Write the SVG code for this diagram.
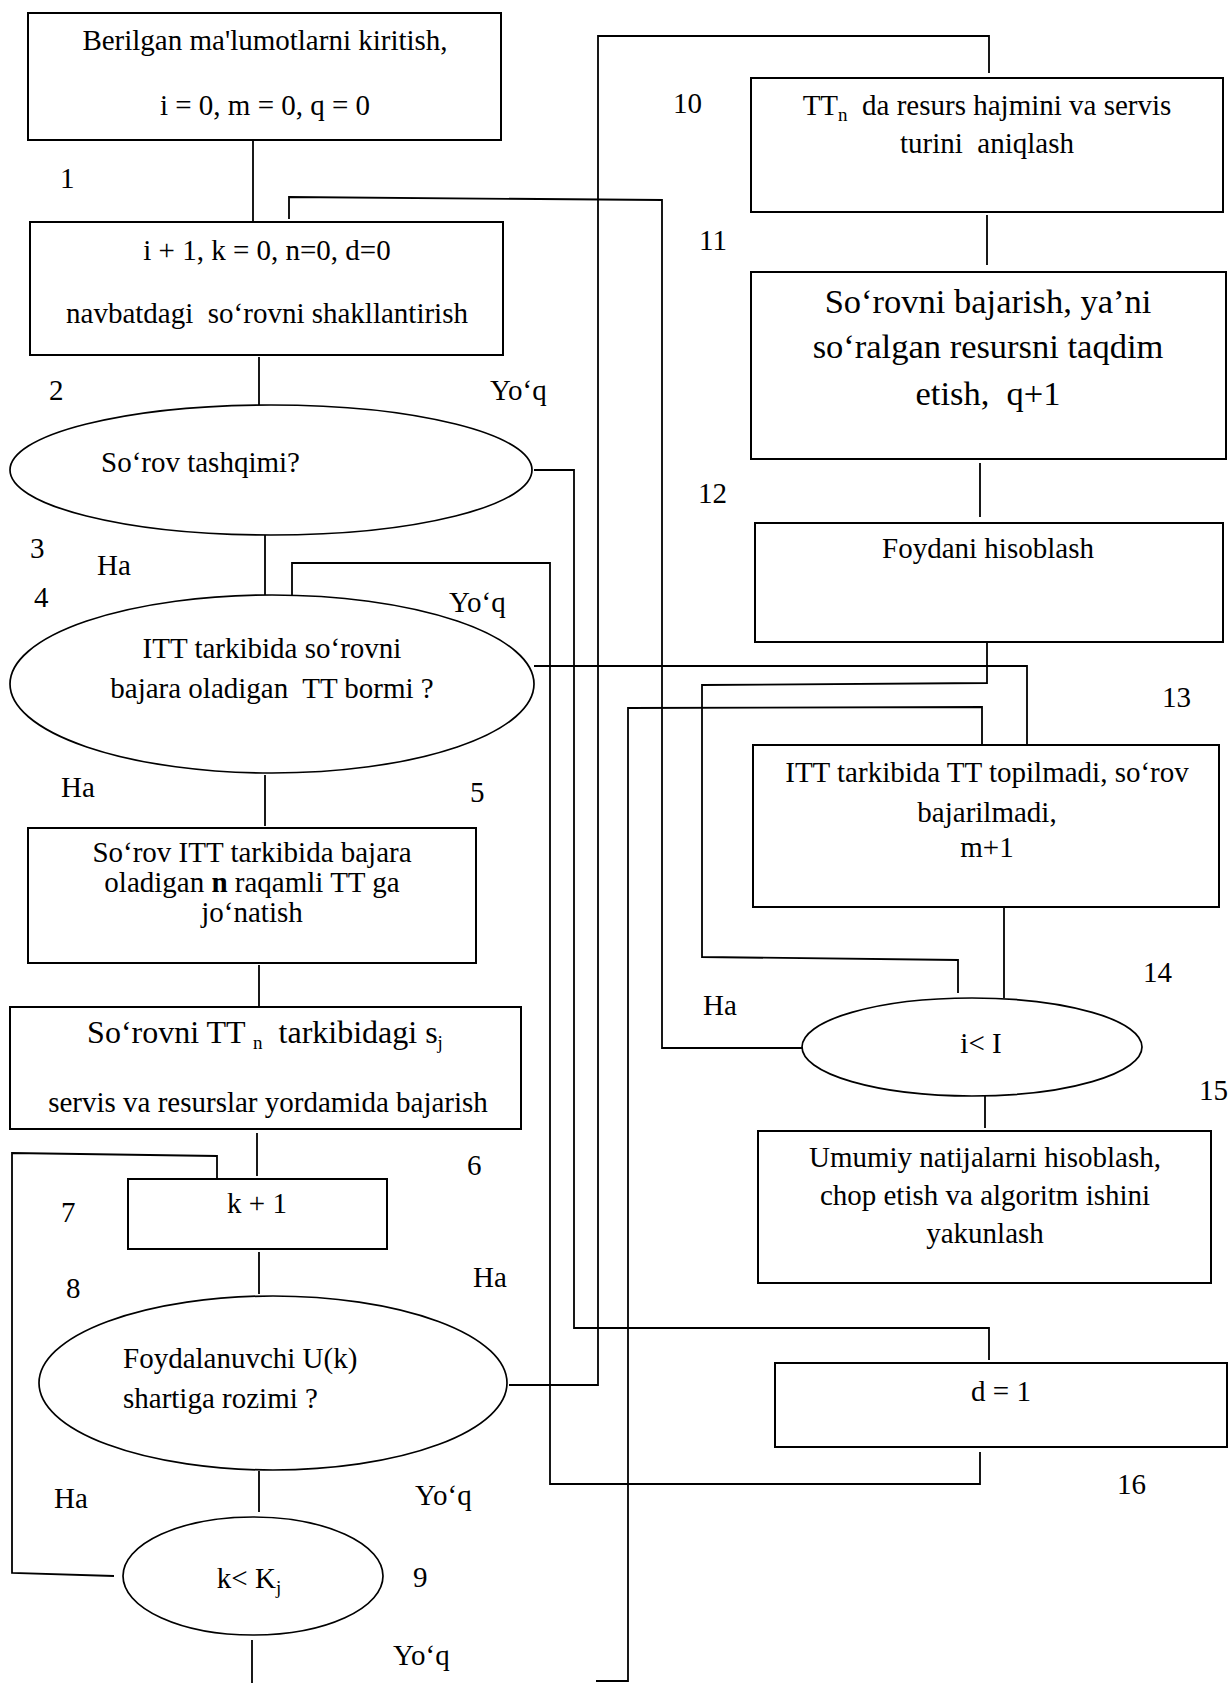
<svg xmlns="http://www.w3.org/2000/svg" width="1228" height="1683" viewBox="0 0 1228 1683">
<style>
.box{fill:none;stroke:#000;stroke-width:2}
.ell{fill:none;stroke:#000;stroke-width:1.7}
.cn{fill:none;stroke:#000;stroke-width:1.8}
text{font-family:"Liberation Serif","Times New Roman",serif;font-size:29px;fill:#000;white-space:pre}
.m{text-anchor:middle}
.big{font-size:34.5px}
.b6{font-size:32px}
.sub{font-size:19px}
</style>
<rect width="1228" height="1683" fill="#fff"/>
<g id="connectors">
<line class="cn" x1="253" y1="141" x2="253" y2="221"/>
<line class="cn" x1="259" y1="357" x2="259" y2="405"/>
<line class="cn" x1="265" y1="535" x2="265" y2="595"/>
<line class="cn" x1="265" y1="775" x2="265" y2="826"/>
<line class="cn" x1="259" y1="965" x2="259" y2="1007"/>
<line class="cn" x1="257" y1="1133" x2="257" y2="1176"/>
<line class="cn" x1="259" y1="1252" x2="259" y2="1294"/>
<line class="cn" x1="259" y1="1471" x2="259" y2="1512"/>
<line class="cn" x1="252" y1="1640" x2="252" y2="1683"/>
<polyline class="cn" points="114,1576 12,1573 12,1153 217,1156 217,1179"/>
<polyline class="cn" points="534,470 574,470 574,1328 989,1328 989,1360"/>
<polyline class="cn" points="509,1385 598,1385 598,36 989,36 989,73"/>
<polyline class="cn" points="292,595 292,563 550,563 550,1484 980,1484 980,1452"/>
<polyline class="cn" points="289,219 289,197 662,200 662,1048 803,1048"/>
<polyline class="cn" points="987,643 987,683 702,685 702,957 958,960 958,993"/>
<polyline class="cn" points="534,666 1027,666 1027,745"/>
<polyline class="cn" points="982,745 982,707 628,708 628,1681 596,1681"/>
<line class="cn" x1="1004" y1="908" x2="1004" y2="998"/>
<line class="cn" x1="985" y1="1096" x2="985" y2="1128"/>
<line class="cn" x1="987" y1="215" x2="987" y2="265"/>
<line class="cn" x1="980" y1="463" x2="980" y2="517"/>
</g>
<g id="n1">
<rect class="box" x="28" y="13" width="473" height="127"/>
<text class="m" x="265" y="50">Berilgan ma'lumotlarni kiritish,</text>
<text class="m" x="265" y="115">i = 0, m = 0, q = 0</text>
</g>
<g id="n2">
<rect class="box" x="30" y="222" width="473" height="133"/>
<text class="m" x="267" y="260">i + 1, k = 0, n=0, d=0</text>
<text class="m" x="267" y="323">navbatdagi  so‘rovni shakllantirish</text>
</g>
<g id="n3">
<ellipse class="ell" cx="271" cy="470" rx="261" ry="65"/>
<text x="101" y="472">So‘rov tashqimi?</text>
</g>
<g id="n4">
<ellipse class="ell" cx="272" cy="684" rx="262" ry="89"/>
<text class="m" x="272" y="658">ITT tarkibida so‘rovni</text>
<text class="m" x="272" y="698">bajara oladigan  TT bormi ?</text>
</g>
<g id="n5">
<rect class="box" x="28" y="828" width="448" height="135"/>
<text class="m" x="252" y="862">So‘rov ITT tarkibida bajara</text>
<text class="m" x="252" y="892">oladigan <tspan font-weight="bold">n</tspan> raqamli TT ga</text>
<text class="m" x="252" y="922">jo‘natish</text>
</g>
<g id="n6">
<rect class="box" x="10" y="1007" width="511" height="122"/>
<text class="m b6" x="265" y="1043">So‘rovni TT <tspan class="sub" dy="6">n</tspan><tspan dy="-6">  tarkibidagi s</tspan><tspan class="sub" dy="6">j</tspan></text>
<text class="m" x="268" y="1112">servis va resurslar yordamida bajarish</text>
</g>
<g id="n7">
<rect class="box" x="128" y="1179" width="259" height="70"/>
<text class="m" x="257" y="1213">k + 1</text>
</g>
<g id="n8">
<ellipse class="ell" cx="273" cy="1383" rx="234" ry="87"/>
<text x="123" y="1368">Foydalanuvchi U(k)</text>
<text x="123" y="1408">shartiga rozimi ?</text>
</g>
<g id="n9">
<ellipse class="ell" cx="253" cy="1576" rx="130" ry="59"/>
<text class="m" x="249" y="1588">k&lt; K<tspan class="sub" dy="6">j</tspan></text>
</g>
<g id="n10">
<rect class="box" x="751" y="78" width="472" height="134"/>
<text class="m" x="987" y="115">TT<tspan class="sub" dy="6">n</tspan><tspan dy="-6">  da resurs hajmini va servis</tspan></text>
<text class="m" x="987" y="153">turini  aniqlash</text>
</g>
<g id="n11">
<rect class="box" x="751" y="272" width="475" height="187"/>
<text class="m big" x="988" y="313">So‘rovni bajarish, ya’ni</text>
<text class="m big" x="988" y="358">so‘ralgan resursni taqdim</text>
<text class="m big" x="988" y="405">etish,  q+1</text>
</g>
<g id="n12">
<rect class="box" x="755" y="523" width="468" height="119"/>
<text class="m" x="988" y="558">Foydani hisoblash</text>
</g>
<g id="n13">
<rect class="box" x="753" y="745" width="466" height="162"/>
<text class="m" x="987" y="782">ITT tarkibida TT topilmadi, so‘rov</text>
<text class="m" x="987" y="822">bajarilmadi,</text>
<text class="m" x="987" y="857">m+1</text>
</g>
<g id="n14">
<ellipse class="ell" cx="972" cy="1047" rx="170" ry="49"/>
<text class="m" x="981" y="1053">i&lt; I</text>
</g>
<g id="n15">
<rect class="box" x="758" y="1131" width="453" height="152"/>
<text class="m" x="985" y="1167">Umumiy natijalarni hisoblash,</text>
<text class="m" x="985" y="1205">chop etish va algoritm ishini</text>
<text class="m" x="985" y="1243">yakunlash</text>
</g>
<g id="n16">
<rect class="box" x="775" y="1363" width="452" height="84"/>
<text class="m" x="1001" y="1401">d = 1</text>
</g>
<g id="labels">
<text x="60" y="188">1</text>
<text x="49" y="400">2</text>
<text x="490" y="400">Yo‘q</text>
<text x="30" y="558">3</text>
<text x="97" y="575">Ha</text>
<text x="34" y="607">4</text>
<text x="449" y="612">Yo‘q</text>
<text x="61" y="797">Ha</text>
<text x="470" y="802">5</text>
<text x="467" y="1175">6</text>
<text x="61" y="1222">7</text>
<text x="66" y="1298">8</text>
<text x="473" y="1287">Ha</text>
<text x="54" y="1508">Ha</text>
<text x="415" y="1505">Yo‘q</text>
<text x="413" y="1587">9</text>
<text x="393" y="1665">Yo‘q</text>
<text x="673" y="113">10</text>
<text x="699" y="250">11</text>
<text x="698" y="503">12</text>
<text x="1162" y="707">13</text>
<text x="1143" y="982">14</text>
<text x="703" y="1015">Ha</text>
<text x="1199" y="1100">15</text>
<text x="1117" y="1494">16</text>
</g>
</svg>
